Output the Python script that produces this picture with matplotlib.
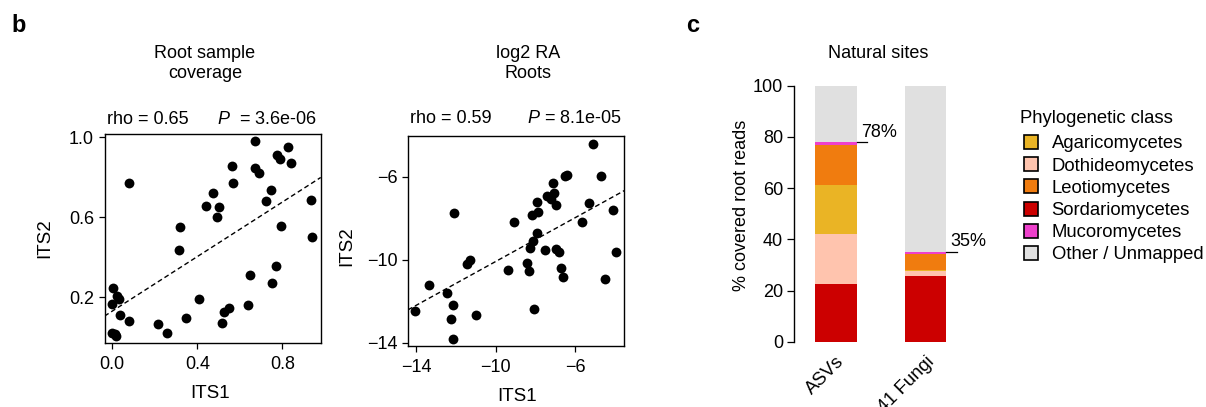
import numpy as np
import matplotlib.pyplot as plt
from matplotlib.lines import Line2D

plt.rcParams['font.family'] = ['Liberation Sans', 'DejaVu Sans']
plt.rcParams['mathtext.fontset'] = 'custom'
plt.rcParams['mathtext.it'] = 'Liberation Sans:italic'
plt.rcParams['mathtext.rm'] = 'Liberation Sans'

W, H = 1206, 407
FS = 13

# panel b, left: root sample coverage (ITS1 vs ITS2)
cov_its1 = [0.081, 0.673, 0.828, 0.773, 0.791, 0.841, 0.563, 0.673, 0.688, 0.567,
            0.473, 0.745, 0.722, 0.442, 0.502, 0.491, 0.934, 0.792, 0.317, 0.313,
            0.939, 0.769, 0.650, 0.750, 0.003, 0.023, 0.031, -0.003, 0.036, 0.081,
            0.406, 0.348, 0.217, 0.259, 0.516, 0.527, 0.550, 0.639, 0.000, 0.011,
            0.020]
cov_its2 = [0.773, 0.980, 0.950, 0.910, 0.892, 0.873, 0.855, 0.848, 0.823, 0.773,
            0.722, 0.735, 0.683, 0.658, 0.652, 0.600, 0.685, 0.557, 0.550, 0.437,
            0.500, 0.355, 0.310, 0.273, 0.247, 0.207, 0.193, 0.165, 0.110, 0.083,
            0.190, 0.095, 0.065, 0.020, 0.072, 0.127, 0.145, 0.160, 0.022, 0.017,
            0.008]
cov_stats = ('0.65', '3.6e-06')

# panel b, right: log2 relative abundance in roots
ra_its1 = [-5.09, -6.43, -6.53, -4.67, -7.09, -7.41, -7.04, -7.22, -6.95, -7.93,
           -5.29, -4.08, -12.12, -8.18, -7.88, -9.10, -5.66, -7.94, -8.13, -8.25,
           -7.52, -6.95, -6.80, -3.93, -11.30, -11.47, -8.43, -8.30, -9.39, -6.73,
           -6.62, -4.47, -13.36, -12.47, -12.15, -14.05, -8.09, -11.00, -12.24, -12.14]
ra_its2 = [-4.40, -5.90, -5.98, -5.98, -6.31, -6.90, -6.77, -7.06, -7.37, -7.21,
           -7.24, -7.60, -7.73, -7.82, -7.71, -8.18, -8.18, -8.71, -9.11, -9.45,
           -9.53, -9.50, -9.60, -9.63, -10.02, -10.21, -10.13, -10.53, -10.47, -10.39,
           -10.82, -10.90, -11.23, -11.60, -12.16, -12.45, -12.35, -12.66, -12.87, -13.82]
ra_stats = ('0.59', '8.1e-05')

# panel c: share of root reads per phylogenetic class
bar_groups = ['ASVs', '41 Fungi']
classes = ['Sordariomycetes', 'Dothideomycetes', 'Agaricomycetes',
           'Leotiomycetes', 'Mucoromycetes', 'Other / Unmapped']
class_colors = ['#CC0000', '#FFC4AE', '#EAB425', '#F07C0F', '#EE40CC', '#E0E0E0']
asv_share = [22.5, 19.6, 19.1, 15.6, 1.2, 22.0]
fungi_share = [25.7, 1.9, 0.5, 6.3, 0.7, 64.6]
legend_order = ['Agaricomycetes', 'Dothideomycetes', 'Leotiomycetes',
                'Sordariomycetes', 'Mucoromycetes', 'Other / Unmapped']


def fig_box(left, top, right, bottom):
    # pixel box -> figure fraction rect
    return [left / W, 1 - bottom / H, (right - left) / W, (bottom - top) / H]


def ftext(x, y, s, **kw):
    fig.text(x / W, 1 - y / H, s, **kw)


def scatter_panel(ax, x, y, xlim, ylim, xticks, yticks, labels_fmt):
    x = np.asarray(x)
    y = np.asarray(y)
    ax.scatter(x, y, s=50, c='black', linewidths=0, zorder=3)
    slope, icpt = np.polyfit(x, y, 1)
    xs = np.array(xlim)
    ax.plot(xs, slope * xs + icpt, color='black', lw=1.0, ls=(0, (3.5, 2.2)))
    ax.set_xlim(xlim)
    ax.set_ylim(ylim)
    ax.set_xticks(xticks)
    ax.set_yticks(yticks)
    ax.set_xticklabels([labels_fmt(v) for v in xticks])
    ax.set_yticklabels([labels_fmt(v) for v in yticks])
    ax.tick_params(direction='out', length=4.5, width=0.9, labelsize=FS)
    ax.tick_params(axis='x', pad=5)
    ax.tick_params(axis='y', pad=3)
    for sp in ax.spines.values():
        sp.set_linewidth(1.0)


fig = plt.figure(figsize=(W / 100, H / 100), dpi=100)

# ---- left scatter
ax1 = fig.add_axes(fig_box(104.5, 133.5, 320.7, 342.7))
scatter_panel(ax1, cov_its1, cov_its2, (-0.036, 0.98), (-0.027, 1.02),
              [0.0, 0.4, 0.8], [0.2, 0.6, 1.0], lambda v: f'{v:.1f}')
ftext(205, 45, 'Root sample\ncoverage', ha='center', va='top', fontsize=FS,
      linespacing=1.2)
ftext(107, 124, f'rho = {cov_stats[0]}', ha='left', va='baseline', fontsize=FS)
ftext(317, 124, r'$\it{P}$  = ' + cov_stats[1], ha='right', va='baseline',
      fontsize=FS)
ftext(210.5, 394, 'ITS1', ha='center', va='center', fontsize=13.5)
ftext(44.5, 238, 'ITS2', ha='center', va='center', rotation=90, fontsize=13.5)

# ---- middle scatter
ax2 = fig.add_axes(fig_box(408, 136, 624.5, 345.5))
scatter_panel(ax2, ra_its1, ra_its2, (-14.42, -3.51), (-14.13, -4.03),
              [-14, -10, -6], [-14, -10, -6], lambda v: f'{v:d}'.replace('-', '\u2212'))
ftext(527.7, 45, 'log2 RA\nRoots', ha='center', va='top', fontsize=FS,
      linespacing=1.2)
ftext(410, 123.5, f'rho = {ra_stats[0]}', ha='left', va='baseline', fontsize=FS)
ftext(622, 123.5, r'$\it{P}$ = ' + ra_stats[1], ha='right', va='baseline',
      fontsize=FS)
ftext(517.5, 396.7, 'ITS1', ha='center', va='center', fontsize=13.5)
ftext(347, 246, 'ITS2', ha='center', va='center', rotation=90, fontsize=13.5)

# ---- stacked bars
ax3 = fig.add_axes(fig_box(794.3, 85.7, 966, 341.7))
pos = np.arange(len(bar_groups))
shares = np.array([asv_share, fungi_share])
bottoms = np.zeros(len(bar_groups))
for i, cls in enumerate(classes):
    ax3.bar(pos, shares[:, i], bottom=bottoms, width=0.465,
            color=class_colors[i], linewidth=0, label=cls)
    bottoms += shares[:, i]

# covered fraction = everything except "Other / Unmapped"
covered = shares[:, :-1].sum(axis=1)
for p, c in zip(pos, covered):
    ax3.plot([p + 0.2325, p + 0.345], [c, c], color='black', lw=0.9,
             clip_on=False)
    ax3.annotate(f'{c:.0f}%', (p + 0.2325, c), xytext=(3, 1),
                 textcoords='offset points', ha='left', va='bottom',
                 fontsize=FS, annotation_clip=False)

ax3.set_xlim(-0.464, 1.45)
ax3.set_ylim(0, 100)
ax3.set_yticks(np.arange(0, 101, 20))
ax3.set_xticks(pos)
ax3.set_xticklabels(bar_groups, rotation=45, ha='right', va='top',
                    rotation_mode='anchor')
ax3.tick_params(axis='x', length=0, pad=8, labelsize=13.3)
ax3.tick_params(axis='y', length=5, width=0.9, pad=3, labelsize=FS)
for s in ['top', 'right', 'bottom']:
    ax3.spines[s].set_visible(False)
ax3.spines['left'].set_bounds(0, 100)
ax3.spines['left'].set_linewidth(1.0)
ftext(878, 45.5, 'Natural sites', ha='center', va='top', fontsize=FS)
ftext(741.5, 205.8, '% covered root reads', ha='center', va='center',
      rotation=90, fontsize=FS)

color_of = dict(zip(classes, class_colors))
handles = [Line2D([], [], ls='', marker='s', ms=10, mfc=color_of[c],
                  mec='black', mew=1.2) for c in legend_order]
ftext(1020, 119, 'Phylogenetic class', ha='left', va='center', fontsize=13.3)
fig.legend(handles, legend_order, loc='upper left',
           bbox_to_anchor=(1022 / W, 1 - 135.5 / H),
           frameon=False, fontsize=13.3, handlelength=0.95, handletextpad=0.65,
           labelspacing=0.28, borderpad=0, borderaxespad=0)

# panel letters
ftext(11, 31.5, 'b', ha='left', va='baseline', fontsize=17, fontweight='bold')
ftext(686, 31.5, 'c', ha='left', va='baseline', fontsize=17, fontweight='bold')

fig.savefig('out.png', dpi=100)
